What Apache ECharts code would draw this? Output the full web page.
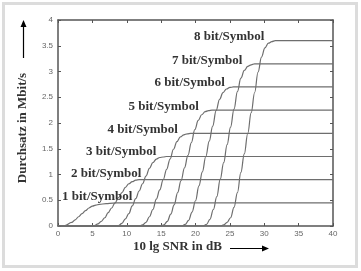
<!DOCTYPE html>
<html>
<head>
<meta charset="utf-8">
<script src="https://cdn.jsdelivr.net/npm/echarts@6/dist/echarts.min.js"></script>
<style>
html,body{margin:0;padding:0;background:#fff;}
#c{width:361px;height:271px;}
</style>
</head>
<body>
<div id="c"></div>
<script>
// Data (x = 10 lg SNR in dB, y = Durchsatz in Mbit/s)
const curve1 = [[0,0],[1,0.01],[2,0.07],[2.5,0.12],[3,0.18],[3.5,0.24],[4,0.30],[4.5,0.35],[5,0.385],[5.5,0.405],[6,0.42],[7,0.435],[8,0.445],[9,0.45],[40,0.45]];
const curve2 = [[0,0],[4.8,0],[5.3,0.01],[5.8,0.04],[6.3,0.09],[6.8,0.16],[7.3,0.26],[7.8,0.35],[8.3,0.45],[8.8,0.55],[9.3,0.65],[9.8,0.75],[10.3,0.82],[10.8,0.86],[11.3,0.89],[11.8,0.9],[40,0.9]];
const curve3 = [[0,0],[8.3,0],[8.8,0.01],[9.3,0.05],[9.8,0.14],[10.3,0.24],[10.8,0.39],[11.3,0.53],[11.8,0.68],[12.3,0.82],[12.8,0.97],[13.3,1.12],[13.8,1.23],[14.3,1.30],[14.8,1.33],[15.3,1.34],[15.8,1.35],[40,1.35]];
const curve4 = [[0,0],[11.8,0],[12.3,0.02],[12.8,0.07],[13.3,0.18],[13.8,0.32],[14.3,0.52],[14.8,0.70],[15.3,0.90],[15.8,1.10],[16.3,1.30],[16.8,1.49],[17.3,1.64],[17.8,1.73],[18.3,1.77],[18.8,1.79],[19.3,1.8],[40,1.8]];
const curve5 = [[0,0],[14.9,0],[15.4,0.02],[15.9,0.09],[16.4,0.23],[16.9,0.41],[17.4,0.65],[17.9,0.88],[18.4,1.13],[18.9,1.37],[19.4,1.62],[19.9,1.87],[20.4,2.05],[20.9,2.16],[21.4,2.22],[21.9,2.24],[22.4,2.25],[40,2.25]];
const curve6 = [[0,0],[18.0,0],[18.5,0.03],[19.0,0.11],[19.5,0.27],[20.0,0.49],[20.5,0.78],[21.0,1.05],[21.5,1.35],[22.0,1.65],[22.5,1.94],[23.0,2.24],[23.5,2.46],[24.0,2.59],[24.5,2.66],[25.0,2.69],[25.5,2.7],[40,2.7]];
const curve7 = [[0,0],[21.1,0],[21.6,0.03],[22.1,0.13],[22.6,0.32],[23.1,0.57],[23.6,0.91],[24.1,1.23],[24.6,1.58],[25.1,1.92],[25.6,2.27],[26.1,2.61],[26.6,2.87],[27.1,3.02],[27.6,3.10],[28.1,3.13],[28.6,3.15],[40,3.15]];
const curve8 = [[0,0],[23.6,0],[24.1,0.02],[24.6,0.07],[25.1,0.16],[25.6,0.36],[26.1,0.65],[26.6,1.04],[27.1,1.40],[27.6,1.80],[28.1,2.20],[28.6,2.59],[29.1,2.99],[29.6,3.28],[30.1,3.46],[30.6,3.55],[31.1,3.58],[31.6,3.6],[40,3.6]];
const curves = [curve1, curve2, curve3, curve4, curve5, curve6, curve7, curve8];
const curveLabels = ['1 bit/Symbol','2 bit/Symbol','3 bit/Symbol','4 bit/Symbol','5 bit/Symbol','6 bit/Symbol','7 bit/Symbol','8 bit/Symbol'];
const xTitle = '10 lg SNR in dB';
const yTitle = 'Durchsatz in Mbit/s';

// label placement (pixels)
const labelPos = [[62,197],[71,173.5],[86,152],[107.5,130],[128.5,107],[154.5,82.5],[172,60.5],[194,37]];

const chart = echarts.init(document.getElementById('c'), null, {renderer:'canvas'});
const axisCol = '#555';
const serif = '"Liberation Serif","Times New Roman",serif';
const txtCol = '#333';

const graphics = [
  {type:'rect', shape:{x:3.5,y:3.5,width:353,height:263}, style:{fill:'none', stroke:'#dcdcdc', lineWidth:3}, silent:true, z:0},
  {type:'text', x:23, y:128, rotation:Math.PI/2, style:{text:yTitle, font:'bold 13px '+serif, fill:txtCol, align:'center', verticalAlign:'middle'}},
  {type:'line', shape:{x1:23.5,y1:58,x2:23.5,y2:25}, style:{stroke:'#000', lineWidth:1.2}},
  {type:'polygon', shape:{points:[[23.5,20],[20.5,27],[26.5,27]]}, style:{fill:'#000'}},
  {type:'text', x:133, y:247, style:{text:xTitle, font:'bold 13px '+serif, fill:txtCol, align:'left', verticalAlign:'middle'}},
  {type:'line', shape:{x1:230,y1:248.5,x2:263,y2:248.5}, style:{stroke:'#000', lineWidth:1.2}},
  {type:'polygon', shape:{points:[[269,248.5],[262,245.5],[262,251.5]]}, style:{fill:'#000'}}
];
curveLabels.forEach((t,i)=>{
  graphics.push({type:'text', x:labelPos[i][0], y:labelPos[i][1], style:{text:t, font:'bold 13px '+serif, fill:txtCol, align:'left', verticalAlign:'middle'}, z:10});
});

const tickCommon = {show:true, inside:true, length:3, lineStyle:{color:axisCol, width:1}};
const lineCommon = {show:true, onZero:false, lineStyle:{color:axisCol, width:1.5}};

chart.setOption({
  animation:false,
  backgroundColor:'#fff',
  grid:{left:58, right:28, top:20, bottom:45, containLabel:false},
  xAxis:[
    {type:'value', min:0, max:40, interval:5, position:'bottom',
     axisLine:lineCommon, axisTick:tickCommon, splitLine:{show:false},
     axisLabel:{color:'#666', fontSize:8, fontFamily:'Arial, "Liberation Sans", sans-serif', margin:4}},
    {type:'value', min:0, max:40, interval:5, position:'top',
     axisLine:lineCommon, axisTick:tickCommon, splitLine:{show:false}, axisLabel:{show:false}}
  ],
  yAxis:[
    {type:'value', min:0, max:4, interval:0.5, position:'left',
     axisLine:lineCommon, axisTick:tickCommon, splitLine:{show:false},
     axisLabel:{color:'#666', fontSize:8, fontFamily:'Arial, "Liberation Sans", sans-serif', margin:5}},
    {type:'value', min:0, max:4, interval:0.5, position:'right',
     axisLine:lineCommon, axisTick:tickCommon, splitLine:{show:false}, axisLabel:{show:false}}
  ],
  series: curves.map((d,i)=>({
    type:'line', data:d, xAxisIndex:0, yAxisIndex:0,
    showSymbol:false, smooth:0.4, smoothMonotone:'x',
    lineStyle:{color:'#6e6e6e', width:1.2},
    z:2, silent:true
  })),
  graphic: graphics
});
</script>
</body>
</html>
